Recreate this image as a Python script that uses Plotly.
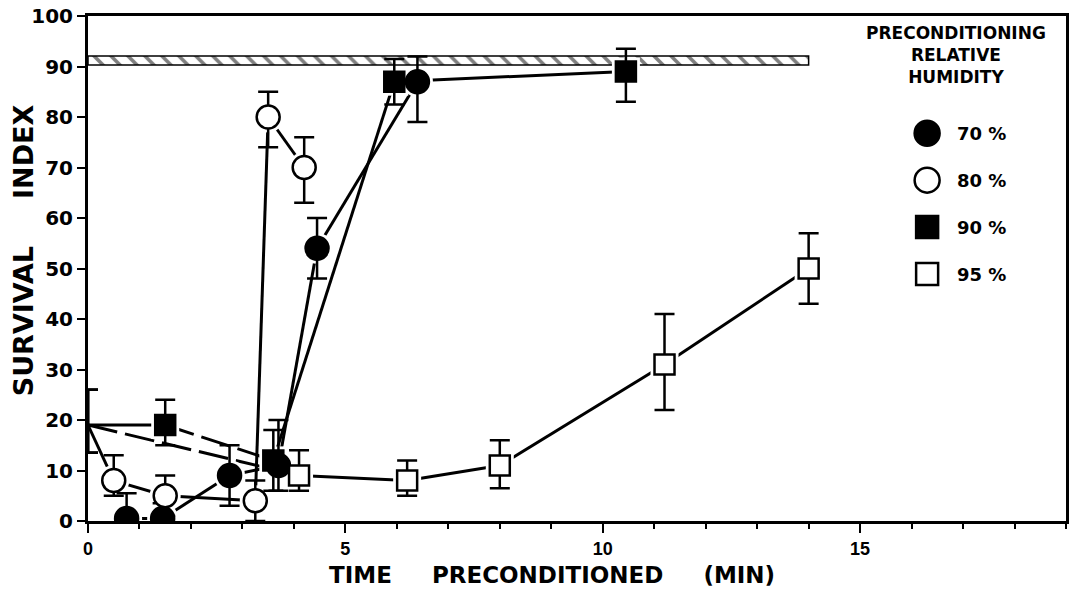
import plotly.graph_objects as go

# survival index vs. preconditioning time, one series per relative humidity
# the first point (time 0) is the common starting value
time_70 = [0.75, 1.45, 2.75, 3.7, 4.45, 6.4]
si_70 = [0.5, 0.5, 9, 11, 54, 87]
up_70 = [5, 3, 6, 9, 6, 5]
dn_70 = [5, 3, 6, 5, 6, 8]

time_80 = [0, 0.5, 1.5, 3.25, 3.5, 4.2]
si_80 = [19, 8, 5, 4, 80, 70]
up_80 = [7, 5, 4, 4, 5, 6]
dn_80 = [5.5, 3, 4, 4, 6, 7]

time_90 = [0, 1.5, 3.6, 5.95, 10.45]
si_90 = [19, 19, 12, 87, 89]
up_90 = [7, 5, 6, 4.5, 4.5]
dn_90 = [5.5, 4, 6, 4.5, 6]

time_95 = [0, 4.1, 6.2, 8.0, 11.2, 14.0]
si_95 = [19, 9, 8, 11, 31, 50]
up_95 = [7, 5, 4, 5, 10, 7]
dn_95 = [5.5, 3, 3, 4.5, 9, 7]

labels = ["70 %", "80 %", "90 %", "95 %"]

# hatched reference band (control level)
band_lo = 90.3
band_hi = 92.1
band_end = 14

series = [
    dict(x=time_70, y=si_70, up=up_70, dn=dn_70, symbol="circle", fill="black", size=23, dashed=[]),
    dict(x=time_80, y=si_80, up=up_80, dn=dn_80, symbol="circle", fill="white", size=23, dashed=[]),
    dict(x=time_90, y=si_90, up=up_90, dn=dn_90, symbol="square", fill="black", size=20, dashed=[1]),
    dict(x=time_95, y=si_95, up=up_95, dn=dn_95, symbol="square", fill="white", size=20, dashed=[0]),
]

fig = go.Figure()

fig.add_trace(go.Scatter(
    x=[0, band_end, band_end, 0, 0],
    y=[band_lo, band_lo, band_hi, band_hi, band_lo],
    mode="lines",
    fill="toself",
    fillcolor="white",
    fillpattern=dict(shape="\\", fgcolor="black", bgcolor="white", size=12, solidity=0.3),
    line=dict(color="black", width=1.5),
    hoverinfo="skip",
))

# connecting lines, segment by segment (some are dashed)
for s in series:
    for i in range(len(s["x"]) - 1):
        fig.add_trace(go.Scatter(
            x=s["x"][i:i + 2],
            y=s["y"][i:i + 2],
            mode="lines",
            line=dict(color="black", width=3,
                      dash="30px,8px" if i in s["dashed"] else "solid"),
            hoverinfo="skip",
        ))

# white halo under each marker, like the gaps in the original drawing
for s in series:
    vis = [0 if t == 0 else 1 for t in s["x"]]
    fig.add_trace(go.Scatter(
        x=s["x"], y=s["y"],
        mode="markers",
        marker=dict(symbol=s["symbol"], size=s["size"] + 8, color="white",
                    opacity=vis, line=dict(width=0)),
        hoverinfo="skip",
    ))

for s, name in zip(series, labels):
    vis = [0 if t == 0 else 1 for t in s["x"]]
    fig.add_trace(go.Scatter(
        x=s["x"], y=s["y"],
        name=name,
        mode="markers",
        marker=dict(symbol=s["symbol"], size=s["size"], color=s["fill"],
                    opacity=vis, line=dict(color="black", width=2.5)),
        error_y=dict(type="data", symmetric=False, array=s["up"], arrayminus=s["dn"],
                     color="black", thickness=2.5, width=10),
    ))

# legend drawn by hand so the symbols keep their size
leg_x = 0.858
leg_text_x = 0.887
leg_top = 0.768
leg_step = 0.093
shapes = []
annotations = [
    dict(text="PRECONDITIONING<br>RELATIVE<br>HUMIDITY", xref="paper", yref="paper",
         x=0.888, y=0.99, xanchor="center", yanchor="top", align="center", showarrow=False,
         font=dict(family="DejaVu Sans", size=17, weight="bold", color="black")),
]
for i, (s, name) in enumerate(zip(series, labels)):
    yy = leg_top - i * leg_step
    r = s["size"] / 2 + 1
    shapes.append(dict(
        type="circle" if s["symbol"] == "circle" else "rect",
        xref="paper", yref="paper",
        xsizemode="pixel", ysizemode="pixel",
        xanchor=leg_x, yanchor=yy,
        x0=-r, x1=r, y0=-r, y1=r,
        fillcolor=s["fill"], line=dict(color="black", width=2.5),
    ))
    annotations.append(dict(
        text=name, xref="paper", yref="paper", x=leg_text_x, y=yy,
        xanchor="left", yanchor="middle", showarrow=False,
        font=dict(family="DejaVu Sans", size=18, weight="bold", color="black"),
    ))

annotations.append(dict(
    text="SURVIVAL\u00a0\u00a0\u00a0\u00a0\u00a0INDEX", xref="paper", yref="paper",
    x=-0.066, y=0.537, xanchor="center", yanchor="middle", textangle=-90, showarrow=False,
    font=dict(family="DejaVu Sans", size=27, weight="bold", color="black"),
))
annotations.append(dict(
    text="TIME\u00a0\u00a0\u00a0\u00a0\u00a0PRECONDITIONED\u00a0\u00a0\u00a0\u00a0\u00a0(MIN)",
    xref="paper", yref="paper",
    x=0.474, y=-0.107, xanchor="center", yanchor="middle", showarrow=False,
    font=dict(family="DejaVu Sans", size=23, weight="bold", color="black"),
))

fig.update_layout(
    width=1076,
    height=590,
    margin=dict(l=88, r=10, t=16, b=69),
    paper_bgcolor="white",
    plot_bgcolor="white",
    showlegend=False,
    shapes=shapes,
    annotations=annotations,
    xaxis=dict(
        range=[0, 19], tick0=0, dtick=5, automargin=False,
        ticks="outside", ticklen=9, tickwidth=2, tickcolor="black",
        showline=True, linewidth=3, linecolor="black", mirror=True,
        showgrid=False, zeroline=False,
        tickfont=dict(family="Liberation Sans", size=18, weight="bold", color="black"),
        minor=dict(dtick=1, ticks="outside", ticklen=5, tickwidth=2, tickcolor="black", showgrid=False),
    ),
    yaxis=dict(
        range=[0, 100], tick0=0, dtick=10, automargin=False,
        ticks="outside", ticklen=8, tickwidth=2, tickcolor="black",
        showline=True, linewidth=3, linecolor="black", mirror=True,
        showgrid=False, zeroline=False, ticklabeloverflow="allow",
        tickfont=dict(family="DejaVu Sans", size=20, weight="bold", color="black"),
    ),
)

# drop the page's default body margin so the figure fills the window
fig.write_html("out.html", config={"displayModeBar": False},
               post_script="document.body.style.margin = '0px';")
